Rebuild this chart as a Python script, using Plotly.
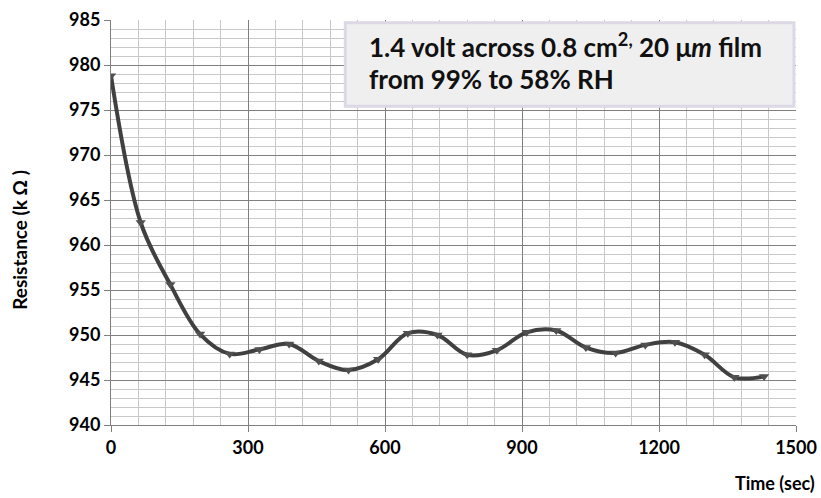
import plotly.graph_objects as go

time_sec = [0, 65, 130, 195, 260, 325, 390, 455, 520, 585, 650, 715, 780, 845,
            910, 975, 1040, 1105, 1170, 1235, 1300, 1365, 1430]
resistance = [978.8, 962.5, 955.6, 950.1, 947.9, 948.4, 949.0, 947.1, 946.1, 947.3,
              950.2, 950.0, 947.8, 948.3, 950.3, 950.5, 948.6, 948.0, 948.9, 949.2,
              947.8, 945.3, 945.4]

x_ticks = [0, 300, 600, 900, 1200, 1500]
y_ticks = [940, 945, 950, 955, 960, 965, 970, 975, 980, 985]

FONT = "Lato"

fig = go.Figure()
fig.add_trace(go.Scatter(
    x=time_sec, y=resistance, mode="lines+markers",
    line=dict(color="#404040", width=4, shape="spline", smoothing=1.0),
    marker=dict(symbol="triangle-down", size=9, color="#505050"),
    showlegend=False,
))

axis_common = dict(
    showline=True, linecolor="#808080", linewidth=1,
    ticks="outside", ticklen=6, tickcolor="#808080",
    showgrid=True, gridcolor="#7f7f7f", gridwidth=1,
    tickfont=dict(family=FONT, size=18, color="#000000", weight="bold"),
    zeroline=False, automargin=False,
)

fig.update_xaxes(range=[0, 1500], tickvals=x_ticks,
                 minor=dict(dtick=60, showgrid=True, gridcolor="#c8c8c8", gridwidth=1),
                 **axis_common)
fig.update_yaxes(range=[940, 985], tickvals=y_ticks,
                 minor=dict(dtick=1, showgrid=True, gridcolor="#c8c8c8", gridwidth=1),
                 **axis_common)

# Annotation box
fig.add_shape(type="rect", xref="paper", yref="paper",
              x0=0.342, x1=0.997, y0=0.787, y1=0.993,
              fillcolor="#efefef", line=dict(color="#dcd8e6", width=3), layer="above")
fig.add_annotation(xref="paper", yref="paper", x=0.373, y=0.937, xanchor="left", yanchor="middle",
                   text="1.4 volt across 0.8 cm<sup>2,</sup> 20 μ<i>m</i> film", showarrow=False,
                   font=dict(family=FONT, size=26, color="#111111", weight="bold"))
fig.add_annotation(xref="paper", yref="paper", x=0.373, y=0.854, xanchor="left", yanchor="middle",
                   text="from 99% to 58% RH", showarrow=False,
                   font=dict(family=FONT, size=26, color="#111111", weight="bold"))

# Axis titles
fig.add_annotation(xref="paper", yref="paper", x=-0.133, y=0.457, xanchor="center", yanchor="middle",
                   text="Resistance (k Ω )", textangle=-90, showarrow=False,
                   font=dict(family=FONT, size=19, color="#000000", weight="bold"))
fig.add_annotation(xref="paper", yref="paper", x=1.031, y=-0.143, xanchor="right", yanchor="middle",
                   text="Time (sec)", showarrow=False,
                   font=dict(family=FONT, size=18, color="#000000", weight="bold"))

fig.update_layout(
    width=821, height=498,
    margin=dict(l=111, r=25, t=20, b=73),
    plot_bgcolor="#ffffff", paper_bgcolor="#ffffff",
)

fig.write_html("out.html", config={"displayModeBar": False},
               post_script="document.body.style.margin='0';document.body.style.overflow='hidden';")
